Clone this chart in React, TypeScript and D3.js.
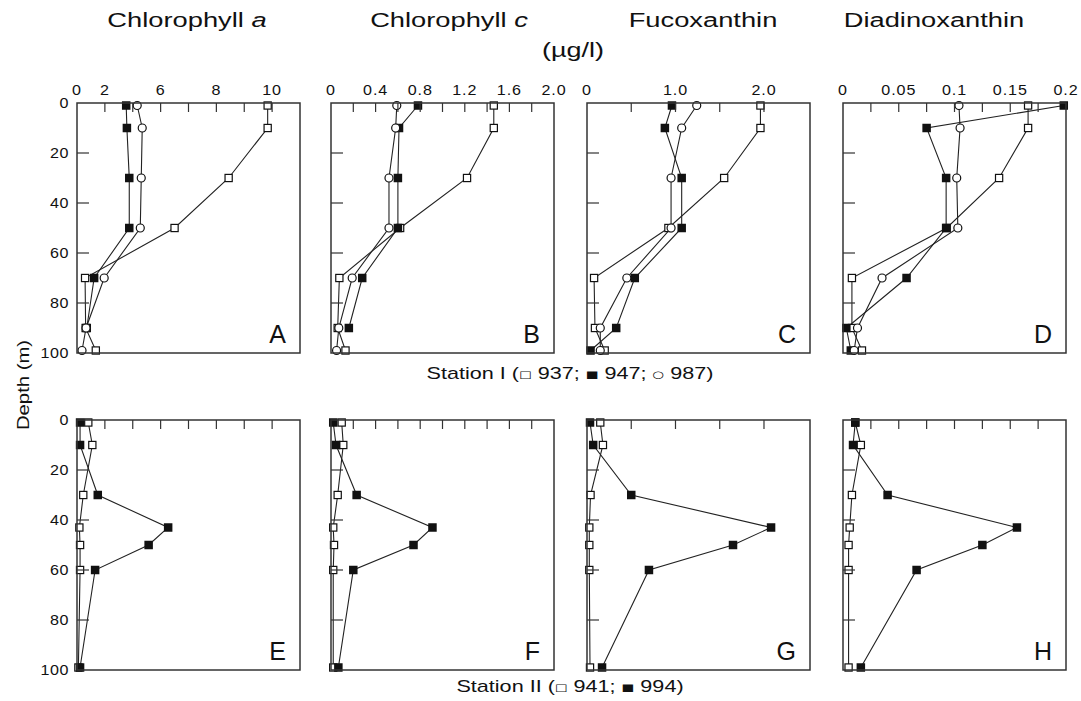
import React from 'react';
import * as d3 from 'd3';

// sampling depths (m)
const depthI = [1, 10, 30, 50, 70, 90, 99];
const depthII = [1, 10, 30, 43, 50, 60, 99];

// Station I, casts 937 / 947 / 987  (µg/l)
const chlA937 = [9.84, 9.84, 8.44, 6.5, 0.58, 0.62, 1.35];
const chlA947 = [3.53, 3.58, 3.75, 3.75, 1.23, 0.7, null];
const chlA987 = [4.32, 4.68, 4.61, 4.54, 1.95, 0.65, 0.36];

const chlC937 = [1.46, 1.46, 1.22, 0.62, 0.075, 0.06, 0.13];
const chlC947 = [0.78, 0.61, 0.6, 0.6, 0.28, 0.16, null];
const chlC987 = [0.59, 0.58, 0.52, 0.52, 0.19, 0.07, 0.05];

const fuco937 = [1.96, 1.96, 1.55, 0.92, 0.08, 0.09, 0.2];
const fuco947 = [0.96, 0.88, 1.07, 1.07, 0.54, 0.33, 0.04];
const fuco987 = [1.24, 1.07, 0.95, 0.95, 0.45, 0.15, 0.15];

const diad937 = [0.166, 0.166, 0.14, 0.093, 0.008, 0.008, 0.017];
const diad947 = [0.198, 0.075, 0.0925, 0.0925, 0.057, 0.003, 0.007];
const diad987 = [0.104, 0.105, 0.102, 0.103, 0.035, 0.013, 0.01];

// Station II, casts 941 / 994
const chlA941 = [0.81, 1.1, 0.45, 0.17, 0.22, 0.22, 0.1];
const chlA994 = [0.22, 0.22, 1.49, 6.27, 5.14, 1.3, 0.22];

const chlC941 = [0.096, 0.11, 0.06, 0.02, 0.027, 0.02, 0.02];
const chlC994 = [0.02, 0.045, 0.23, 0.91, 0.74, 0.2, 0.066];

const fuco941 = [0.15, 0.18, 0.04, 0.026, 0.026, 0.026, 0.034];
const fuco994 = [0.034, 0.07, 0.5, 2.08, 1.65, 0.7, 0.17];

const diad941 = [0.011, 0.016, 0.008, 0.006, 0.005, 0.005, 0.005];
const diad994 = [0.011, 0.009, 0.04, 0.156, 0.125, 0.066, 0.016];

// axes
const depthTicks = [0, 20, 40, 60, 80, 100];
const chlATicks = [2, 4, 6, 7, 8, 9, 10];
const chlALabels = [0, 2, 6, 8, 10];
const chlCTicks = [0.2, 0.4, 0.6, 0.8, 1.0, 1.2, 1.4, 1.6, 1.8];
const chlCLabels = [0, 0.4, 0.8, 1.2, 1.6, 2.0];
const fucoTicks = [0.5, 1.0, 1.5, 2.0];
const fucoLabels = [0, 1.0, 2.0];
const diadTicks = [0.025, 0.05, 0.075, 0.1, 0.125, 0.15, 0.175];
const diadLabels = [0, 0.05, 0.1, 0.15, 0.2];

const panelLetters = [['A', 'B', 'C', 'D'], ['E', 'F', 'G', 'H']];

const FONT = '"Liberation Sans", Arial, Helvetica, sans-serif';
const INK = '#111';

const colX = [77, 331, 587, 843];
const rowY = [103, 420];
const W = 223;
const H = 250;

const fmt = (d: number) => (d === 0 ? '0' : d >= 1 && d % 1 === 0 ? d.toFixed(1) : String(d));

const columns = [
  { domain: [0, 2, 6, 11], frac: [0, 1 / 8, 3 / 8, 1], ticks: chlATicks, labels: chlALabels, fmt: (d: number) => String(d) },
  { domain: [0, 2], frac: [0, 1], ticks: chlCTicks, labels: chlCLabels, fmt },
  { domain: [0, 2.52], frac: [0, 1], ticks: fucoTicks, labels: fucoLabels, fmt },
  { domain: [0, 0.2], frac: [0, 1], ticks: diadTicks, labels: diadLabels, fmt },
];

const stationI = [
  [chlA937, chlA947, chlA987],
  [chlC937, chlC947, chlC987],
  [fuco937, fuco947, fuco987],
  [diad937, diad947, diad987],
];
const stationII = [
  [chlA941, chlA994],
  [chlC941, chlC994],
  [fuco941, fuco994],
  [diad941, diad994],
];
const markerI = ['open', 'filled', 'circle'];
const markerII = ['open', 'filled'];

const Txt = ({ x, y, size, sx = 1, anchor = 'middle', rotate = 0, ls = 0, children }: any) => (
  <text
    transform={`translate(${x},${y}) rotate(${rotate}) scale(${sx},1)`}
    fontSize={size}
    fontFamily={FONT}
    textAnchor={anchor}
    letterSpacing={ls}
    fill={INK}
  >
    {children}
  </text>
);

const Sym = ({ c }: any) => (
  <tspan fontSize={10} fontFamily="DejaVu Sans" dy={-1}>
    {c}
  </tspan>
);

const Marker = ({ kind, x, y }: any) => {
  if (kind === 'filled') return <rect x={x - 4.25} y={y - 4.25} width={8.5} height={8.5} fill={INK} />;
  if (kind === 'circle') return <circle cx={x} cy={y} r={4} fill="#fff" stroke={INK} strokeWidth={1.2} />;
  return <rect x={x - 3.6} y={y - 3.6} width={7.2} height={7.2} fill="#fff" stroke={INK} strokeWidth={1.2} />;
};

const Panel = ({ col, row }: any) => {
  const c = columns[col];
  const x0 = colX[col];
  const y0 = rowY[row];
  const x = d3.scaleLinear().domain(c.domain).range(c.frac.map((f) => x0 + f * W));
  const y = d3.scaleLinear().domain([0, 100]).range([y0, y0 + H]);
  const depths = row === 0 ? depthI : depthII;
  const series = row === 0 ? stationI[col] : stationII[col];
  const kinds = row === 0 ? markerI : markerII;
  const line = d3
    .line<number | null>()
    .defined((d) => d != null)
    .x((d) => x(d as number))
    .y((d, i) => y(depths[i]));

  return (
    <g>
      {series.map((s, k) => (
        <path key={'l' + k} d={line(s) || ''} fill="none" stroke="#222" strokeWidth={1.1} />
      ))}
      {series.map((s, k) =>
        s.map((v, i) =>
          v == null ? null : <Marker key={`m${k}-${i}`} kind={kinds[k]} x={x(v)} y={y(depths[i])} />
        )
      )}
      <rect x={x0} y={y0} width={W} height={H} fill="none" stroke="#333" strokeWidth={1.5} />
      {c.ticks.map((t) => (
        <line key={'xt' + t} x1={x(t)} x2={x(t)} y1={y0} y2={y0 + 9} stroke="#333" strokeWidth={1.2} />
      ))}
      {depthTicks.slice(1, -1).map((t) => (
        <line key={'yt' + t} x1={x0} x2={x0 + 12} y1={y(t)} y2={y(t)} stroke="#333" strokeWidth={1.2} />
      ))}
      {row === 0 &&
        c.labels.map((t) => (
          <Txt key={'xl' + t} x={x(t)} y={y0 - 8} size={14} sx={1.15} ls={0.8}>
            {c.fmt(t)}
          </Txt>
        ))}
      {col === 0 &&
        depthTicks.map((t) => (
          <Txt key={'yl' + t} x={x0 - 8} y={y(t) + 5} size={14} sx={1.15} anchor="end" ls={0.5}>
            {t}
          </Txt>
        ))}
      <Txt x={x0 + W - 14} y={y0 + H - 10} size={25} anchor="end">
        {panelLetters[row][col]}
      </Txt>
    </g>
  );
};

const titleX = [187, 449, 703, 934];

export default function App() {
  return (
    <div style={{ position: 'absolute', left: 0, top: 0 }}>
      <svg width={1081} height={701} style={{ display: 'block', background: '#fff' }}>
        <Txt x={titleX[0]} y={27} size={21} sx={1.3}>
          Chlorophyll <tspan fontStyle="italic">a</tspan>
        </Txt>
        <Txt x={titleX[1]} y={27} size={21} sx={1.3}>
          Chlorophyll <tspan fontStyle="italic">c</tspan>
        </Txt>
        <Txt x={titleX[2]} y={27} size={21} sx={1.3}>
          Fucoxanthin
        </Txt>
        <Txt x={titleX[3]} y={27} size={21} sx={1.3}>
          Diadinoxanthin
        </Txt>
        <Txt x={573} y={57} size={20} sx={1.35}>
          (µg/l)
        </Txt>
        <Txt x={29} y={385} size={16} sx={1.27} rotate={-90}>
          Depth (m)
        </Txt>
        {[0, 1].map((r) => [0, 1, 2, 3].map((c) => <Panel key={`${r}-${c}`} row={r} col={c} />))}
        <Txt x={570} y={379} size={16} sx={1.35}>
          Station I (<Sym c="□" />
          <tspan dy={1}> 937; </tspan>
          <Sym c="■" />
          <tspan dy={1}> 947; </tspan>
          <Sym c="○" />
          <tspan dy={1}> 987)</tspan>
        </Txt>
        <Txt x={570} y={692} size={16} sx={1.35}>
          Station II (<Sym c="□" />
          <tspan dy={1}> 941; </tspan>
          <Sym c="■" />
          <tspan dy={1}> 994)</tspan>
        </Txt>
      </svg>
    </div>
  );
}
